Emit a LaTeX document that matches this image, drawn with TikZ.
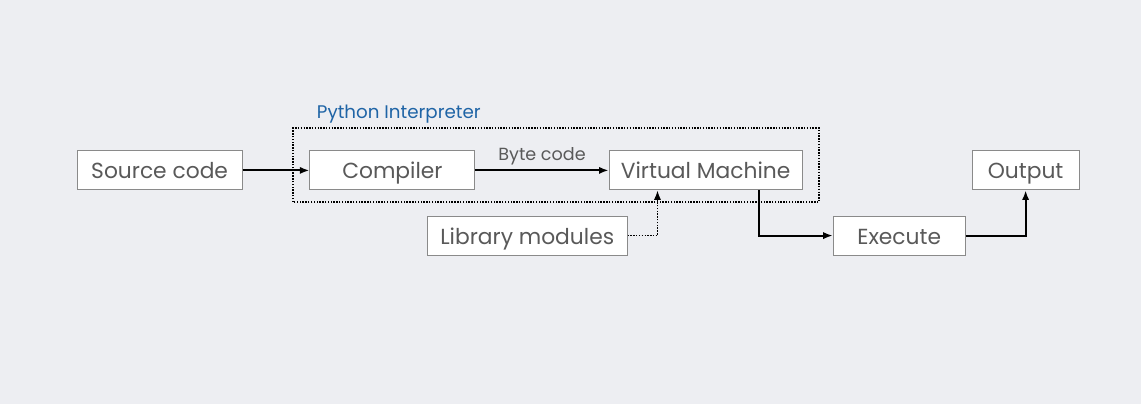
\documentclass[tikz,border=0pt]{standalone}
\usepackage{fontspec}
\setmainfont{Poppins}
\usepackage{xcolor}
\usetikzlibrary{positioning,calc,arrows.meta}

\definecolor{bgcol}{HTML}{EDEEF2}
\definecolor{boxline}{HTML}{8A8A8A}
\definecolor{txtcol}{HTML}{595959}
\definecolor{pyblue}{HTML}{1F64A6}

\tikzset{
    stage/.style={draw=boxline, line width=0.6pt, fill=white, text=txtcol,
        minimum height=0.975cm, inner sep=2pt, text height=2.5ex, text depth=0.3ex,
        font=\fontsize{15.5}{17}\selectfont},
    flow/.style={draw=black, line width=1.4pt, -{Latex[length=2.4mm,width=1.8mm]}},
    dotflow/.style={flow, line width=1.1pt, dash pattern=on 1pt off 1pt},
}

\begin{document}
\begin{tikzpicture}
    % Background
    \fill[bgcol] (0,0) rectangle (28.525,10.1);
    \useasboundingbox (0,0) rectangle (28.525,10.1);

    % Interpreter frame
    \draw[line width=1.1pt, dash pattern=on 1pt off 1pt] (7.33,5.05) rectangle (20.48,6.9);
    \node[anchor=west, text=pyblue, font=\fontsize{13}{15}\selectfont] (interp) at (7.8,7.25) {Python Interpreter};

    % Stages
    \node[stage, minimum width=4.125cm] (src) at (3.99,5.84) {Source code};
    \node[stage, minimum width=4.125cm] (comp) at (9.81,5.84) {Compiler};
    \node[stage, minimum width=4.825cm] (vm) at (17.64,5.84) {Virtual Machine};
    \node[stage, minimum width=2.675cm] (out) at (25.64,5.84) {Output};
    \node[stage, minimum width=5.0cm] (lib) at (13.18,4.21) {Library modules};
    \node[stage, minimum width=3.3cm] (exec) at (22.48,4.21) {Execute};

    % Connectors
    \draw[flow] (src) -- (comp);
    \draw[flow] (comp) -- node[above, text=txtcol, font=\fontsize{12.5}{14}\selectfont] (bc) {Byte code} (vm);
    \coordinate (vmin) at ($(vm.south west)+(1.22,0)$);
    \draw[dotflow] (lib.east) -| (vmin);
    \coordinate (vmout) at ($(vm.south west)+(3.75,0)$);
    \draw[flow] (vmout) |- (exec.west);
    \draw[flow] (exec.east) -| (out.south);
\end{tikzpicture}
\end{document}
